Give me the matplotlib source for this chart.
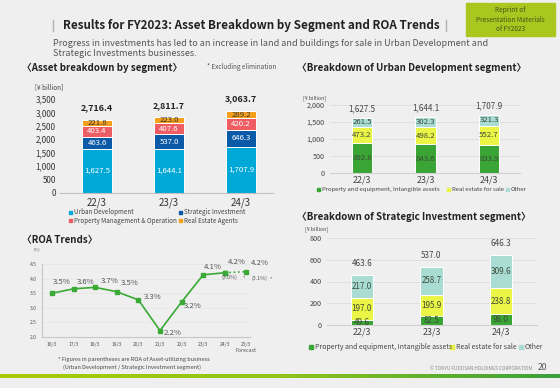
import matplotlib
matplotlib.use('Agg')
import matplotlib.pyplot as plt
import numpy as np
from matplotlib.colors import LinearSegmentedColormap
from matplotlib.patches import Rectangle
from matplotlib.lines import Line2D

plt.rcParams['font.family'] = ['Noto Sans CJK JP', 'DejaVu Sans']

# ---- data ----
years = ['22/3', '23/3', '24/3']

# asset breakdown by segment (¥ billion)
urban_dev = [1627.5, 1644.1, 1707.9]
strategic_inv = [463.6, 537.0, 646.3]
prop_mgmt = [403.4, 407.6, 420.2]
re_agents = [221.8, 223.0, 289.2]
asset_totals = [2716.4, 2811.7, 3063.7]
asset_names = ['Urban Development', 'Strategic Investment',
               'Property Management & Operation', 'Real Estate Agents']

# urban development segment
ud_property = [892.8, 843.6, 833.9]
ud_sale = [473.2, 498.2, 552.7]
ud_other = [261.5, 302.3, 321.3]
ud_totals = [1627.5, 1644.1, 1707.9]

# strategic investment segment
si_property = [49.6, 82.5, 98.0]
si_sale = [197.0, 195.9, 238.8]
si_other = [217.0, 258.7, 309.6]
si_totals = [463.6, 537.0, 646.3]
breakdown_names = ['Property and equipment, Intangible assets',
                   'Real estate for sale', 'Other']

# ROA trends (%)
roa_years = ['16/3', '17/3', '18/3', '19/3', '20/3', '21/3', '22/3', '23/3', '24/3', '25/3']
roa_values = [3.5, 3.65, 3.7, 3.55, 3.27, 2.22, 3.2, 4.13, 4.2, 4.24]
roa_labels = ['3.5%', '3.6%', '3.7%', '3.5%', '3.3%', '2.2%', '3.2%', '4.1%', '4.2%', '4.2%']
roa_asset_util = {8: '(3.0%)', 9: '(3.1%)'}

# ---- colours ----
BG = '#efefef'
asset_colors = ['#00a8d8', '#0b5aa8', '#ee5d63', '#f5a01c']
asset_lbl_colors = ['white', 'white', 'white', '#333333']
seg_colors = ['#3aa535', '#ebf545', '#a9ddd4']
GREEN = '#3aaa35'

W, H = 560, 388
fig = plt.figure(figsize=(W / 100, H / 100), dpi=100)
fig.patch.set_facecolor(BG)


def add_ax(left, top, right, bottom):
    # axes placed by pixel box of the slide
    ax = fig.add_axes([left / W, 1 - bottom / H, (right - left) / W, (bottom - top) / H])
    ax.set_facecolor('none')
    return ax


def ftext(x, y, s, **kw):
    kw.setdefault('va', 'center')
    return fig.text(x / W, 1 - y / H, s, **kw)


def legend_row(items, y, size, fs):
    # items: (x_square, label, colour)
    for x, label, c in items:
        fig.patches.append(Rectangle(((x - size / 2) / W, 1 - (y + size / 2) / H),
                                     size / W, size / H, color=c,
                                     transform=fig.transFigure, figure=fig))
        ftext(x + size / 2 + 2, y, label, fontsize=fs, color='#444444', ha='left')


def stacked(ax, series, colors, lbl_colors, width, fs, totals, tot_off, tot_kw):
    x = np.arange(len(years))
    bottom = np.zeros(len(years))
    for vals, c, lc in zip(series, colors, lbl_colors):
        bars = ax.bar(x, vals, width, bottom=bottom, color=c, edgecolor='white', lw=0.7)
        ax.bar_label(bars, labels=[f'{v:,.1f}' for v in vals], label_type='center',
                     color=lc, fontsize=fs)
        bottom += np.array(vals)
    for i, t in enumerate(totals):
        ax.annotate(f'{t:,.1f}', (i, bottom[i]), xytext=(0, tot_off), textcoords='offset pixels',
                    ha='center', va='center', annotation_clip=False, **tot_kw)
    ax.set_xticks(x)
    ax.set_xticklabels(years)
    for s in ['top', 'right', 'left']:
        ax.spines[s].set_visible(False)
    ax.tick_params(length=0)


# ---- header ----
ftext(63, 25, 'Results for FY2023: Asset Breakdown by Segment and ROA Trends',
      fontsize=8.4, fontweight='bold', color='#222222', ha='left')
for xb in (53, 446):
    fig.add_artist(Line2D([xb / W, xb / W], [1 - 20 / H, 1 - 31 / H], color='#b0b0b0', lw=1))
ftext(53, 43, 'Progress in investments has led to an increase in land and buildings for sale in Urban Development and',
      fontsize=6.5, color='#555555', ha='left')
ftext(53, 53, 'Strategic Investments businesses.', fontsize=6.5, color='#555555', ha='left')

fig.patches.append(Rectangle((466 / W, 1 - 36 / H), 89 / W, 33 / H, color='#a9c71f',
                             transform=fig.transFigure, figure=fig))
for yy, s in zip([10, 19.5, 29], ['Reprint of', 'Presentation Materials', 'of FY2023']):
    ftext(510.5, yy, s, fontsize=4.7, color='#46521a', ha='center')

# ---- asset breakdown by segment ----
ftext(22, 68, '〈Asset breakdown by segment〉', fontsize=7.0, fontweight='bold', color='#222222', ha='left')
ftext(207, 67, '* Excluding elimination', fontsize=4.6, color='#555555', ha='left')
ftext(35, 87, '[¥ billion]', fontsize=4.6, color='#444444', ha='left')

ax1 = add_ax(60, 99, 273, 193)
stacked(ax1, [urban_dev, strategic_inv, prop_mgmt, re_agents], asset_colors, asset_lbl_colors,
        0.42, 5.6, asset_totals, 12, dict(fontsize=6.4, fontweight='bold', color='#222222'))
ax1.set_xlim((60 - 97) / 72, (273 - 97) / 72)
ax1.set_ylim(0, 3500)
ax1.set_yticks(np.arange(0, 3501, 500))
ax1.set_yticklabels([f'{v:,}' for v in range(0, 3501, 500)])
ax1.spines['bottom'].set_color('#c0c0c0')
ax1.tick_params(axis='y', labelsize=5.8, pad=3, labelcolor='#333333')
ax1.tick_params(axis='x', labelsize=7, pad=3, labelcolor='#333333')

legend_row([(70, asset_names[0], asset_colors[0]), (180, asset_names[1], asset_colors[1])], 212, 3, 4.5)
legend_row([(70, asset_names[2], asset_colors[2]), (180, asset_names[3], asset_colors[3])], 221, 3, 4.5)

# ---- urban development segment ----
ftext(297, 68, '〈Breakdown of Urban Development segment〉', fontsize=7.0, fontweight='bold',
      color='#222222', ha='left')
ftext(303, 98, '[¥ billion]', fontsize=3.8, color='#444444', ha='left')
ax2 = add_ax(330, 105, 520, 173)
stacked(ax2, [ud_property, ud_sale, ud_other], seg_colors, ['#3d4a3a'] * 3,
        0.33, 5.6, ud_totals, 9, dict(fontsize=5.8, color='#444444'))
ax2.set_xlim((330 - 362) / 63.5, (520 - 362) / 63.5)
ax2.set_ylim(0, 2000)
ax2.set_yticks(np.arange(0, 2001, 500))
ax2.set_yticklabels([f'{v:,}' for v in range(0, 2001, 500)])
ax2.grid(axis='y', color='#dcdcdc', lw=0.6)
ax2.set_axisbelow(True)
ax2.spines['bottom'].set_color('#cfcfcf')
ax2.tick_params(axis='y', labelsize=5.2, pad=4, labelcolor='#444444')
ax2.tick_params(axis='x', labelsize=6.4, pad=1.5, labelcolor='#444444')
legend_row([(318, breakdown_names[0], seg_colors[0]), (448, breakdown_names[1], seg_colors[1]),
            (507, breakdown_names[2], seg_colors[2])], 189, 3, 4.3)

# ---- strategic investment segment ----
ftext(297, 217, '〈Breakdown of Strategic Investment segment〉', fontsize=7.0, fontweight='bold',
      color='#222222', ha='left')
ftext(305, 229, '[¥ billion]', fontsize=3.8, color='#444444', ha='left')
ax3 = add_ax(327, 238, 537, 325)
stacked(ax3, [si_property, si_sale, si_other], seg_colors, ['#3d4a3a'] * 3,
        0.33, 5.8, si_totals, 11, dict(fontsize=5.8, color='#444444'))
ax3.set_xlim((327 - 362) / 69.5, (537 - 362) / 69.5)
ax3.set_ylim(0, 800)
ax3.set_yticks(np.arange(0, 801, 200))
ax3.grid(axis='y', color='#dcdcdc', lw=0.6)
ax3.set_axisbelow(True)
ax3.spines['bottom'].set_color('#cfcfcf')
ax3.tick_params(axis='y', labelsize=5.2, pad=4, labelcolor='#444444')
ax3.tick_params(axis='x', labelsize=6.4, pad=1.5, labelcolor='#444444')
legend_row([(311, breakdown_names[0], seg_colors[0]), (452, breakdown_names[1], seg_colors[1]),
            (521, breakdown_names[2], seg_colors[2])], 347, 3.5, 5)

# ---- ROA trends ----
ftext(22, 240, '〈ROA Trends〉', fontsize=7.0, fontweight='bold', color='#222222', ha='left')
ftext(33, 249, '[%]', fontsize=3, color='#555555', ha='left')
ax4 = add_ax(41.7, 264, 250, 337)
xr = np.arange(len(roa_years))
ax4.plot(xr[:-1], roa_values[:-1], color=GREEN, lw=1.2, marker='s', ms=2.2)
ax4.plot(xr[-2:], roa_values[-2:], color=GREEN, lw=1.2, ls=':', marker='s', ms=2.2)
ax4.set_xlim((41.7 - 52) / 21.6, (250 - 52) / 21.6)
ax4.set_ylim(2.0, 4.5)
ax4.set_yticks(np.arange(2.0, 4.51, 0.5))
ax4.set_yticklabels([f'{v:.1f}' for v in np.arange(2.0, 4.51, 0.5)])
ax4.set_xticks(xr)
ax4.set_xticklabels(roa_years)
ax4.grid(axis='y', color='#e4e4e4', lw=0.5)
ax4.set_axisbelow(True)
for s in ['top', 'right']:
    ax4.spines[s].set_visible(False)
for s in ['left', 'bottom']:
    ax4.spines[s].set_color('#c8c8c8')
    ax4.spines[s].set_linewidth(0.8)
ax4.tick_params(length=0, labelsize=3.6, labelcolor='#555555', pad=3.5)
ax4.annotate('Forecast', (9, 0), xycoords=('data', 'axes fraction'), xytext=(0, -14),
             textcoords='offset pixels', ha='center', va='center', fontsize=3.8, color='#555555',
             annotation_clip=False)
lbl_off = [(10, 11), (12, 7), (14, 6), (13, 9), (14, 3), (13, -2), (11, -4), (10, 8), (12, 11), (13, 9)]
for i, (v, s) in enumerate(zip(roa_values, roa_labels)):
    ax4.annotate(s, (i, v), xytext=lbl_off[i], textcoords='offset pixels', ha='center', va='center',
                 fontsize=5.6, color='#555555', annotation_clip=False)
util_off = {8: ((5, -5), (19, -5)), 9: ((13, -7), (24, -7))}
for i, s in roa_asset_util.items():
    (lo, so) = util_off[i]
    ax4.annotate(s, (i, roa_values[i]), xytext=lo, textcoords='offset pixels',
                 ha='center', va='center', fontsize=3.9, color='#555555', annotation_clip=False)
    ax4.annotate('*', (i, roa_values[i]), xytext=so, textcoords='offset pixels',
                 ha='center', va='center', fontsize=3.6, color='#555555', annotation_clip=False)

ftext(134, 359, '* Figures in parentheses are ROA of Asset-utilizing business',
      fontsize=4, color='#444444', ha='center')
ftext(132, 367, '(Urban Development / Strategic Investment segment)',
      fontsize=4, color='#444444', ha='center')

# ---- footer ----
ftext(532, 368, '© TOKYU FUDOSAN HOLDINGS CORPORATION', fontsize=3.4, color='#888888', ha='right')
ftext(542, 368, '20', fontsize=6.2, color='#555555', ha='center')
bar_cmap = LinearSegmentedColormap.from_list('footer', ['#a9cc00', '#8fc41a', '#3a9f3c'])
axg = add_ax(0, 373.5, W, 378.5)
axg.imshow(np.linspace(0, 1, 256)[None, :], cmap=bar_cmap, aspect='auto')
axg.axis('off')

fig.savefig('out.png', dpi=100, facecolor=BG)
